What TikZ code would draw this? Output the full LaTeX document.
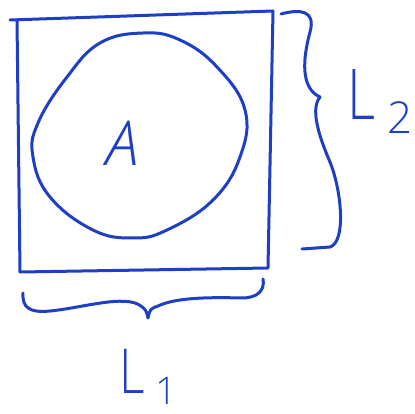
\documentclass[tikz,border=0pt]{standalone}
\usepackage{fontspec}
\newfontfamily\handfont{Open Sans Light}
\definecolor{inkblue}{HTML}{1E3EC4}

\begin{document}
\begin{tikzpicture}[x=1pt,y=-1pt,line width=3pt,line cap=round,line join=round]
\useasboundingbox (0,0) rectangle (415,414);
% square
\draw[inkblue] (10,20) -- (273,11) -- (268,268) -- (20,272) -- (17,20);
% region A
\draw[inkblue] plot[smooth cycle,tension=.7] coordinates {(143,33) (180,40) (217,67) (245,110) (240,157) (213,200) (167,230) (133,238) (93,230) (50,197) (33,157) (38,123) (67,77) (100,43)};
\node[inkblue,font=\handfont\itshape\fontsize{62}{62}\selectfont] (areaA) at (123,143) {A};
% brace for L2
\draw[inkblue] (281,14) .. controls (300,9) and (316,10) .. (310,32) .. controls (303,58) and (300,88) .. (320,97)
  .. controls (311,108) and (317,132) .. (330,162) .. controls (342,192) and (346,242) .. (330,247) -- (302,249);
\node[inkblue,anchor=base west,inner sep=0pt,font=\handfont\fontsize{70}{70}\selectfont] (ltwo) at (346,120) {\scalebox{.78}[1]{L}\,\raisebox{-14pt}{\fontsize{44}{44}\selectfont 2}};
% brace for L1
\draw[inkblue] (23,293) .. controls (22,308) and (30,313) .. (50,311) .. controls (82,308) and (125,294) .. (141,306)
  .. controls (146,310) .. (148,318) .. controls (150,309) .. (158,306) .. controls (175,298) and (205,297) .. (242,298)
  .. controls (258,298) and (265,290) .. (263,279);
\node[inkblue,anchor=base west,inner sep=0pt,font=\handfont\fontsize{62}{62}\selectfont] (lone) at (118,393) {\scalebox{.8}[1]{L}\,\raisebox{-11pt}{\fontsize{38}{38}\selectfont 1}};
\end{tikzpicture}
\end{document}
